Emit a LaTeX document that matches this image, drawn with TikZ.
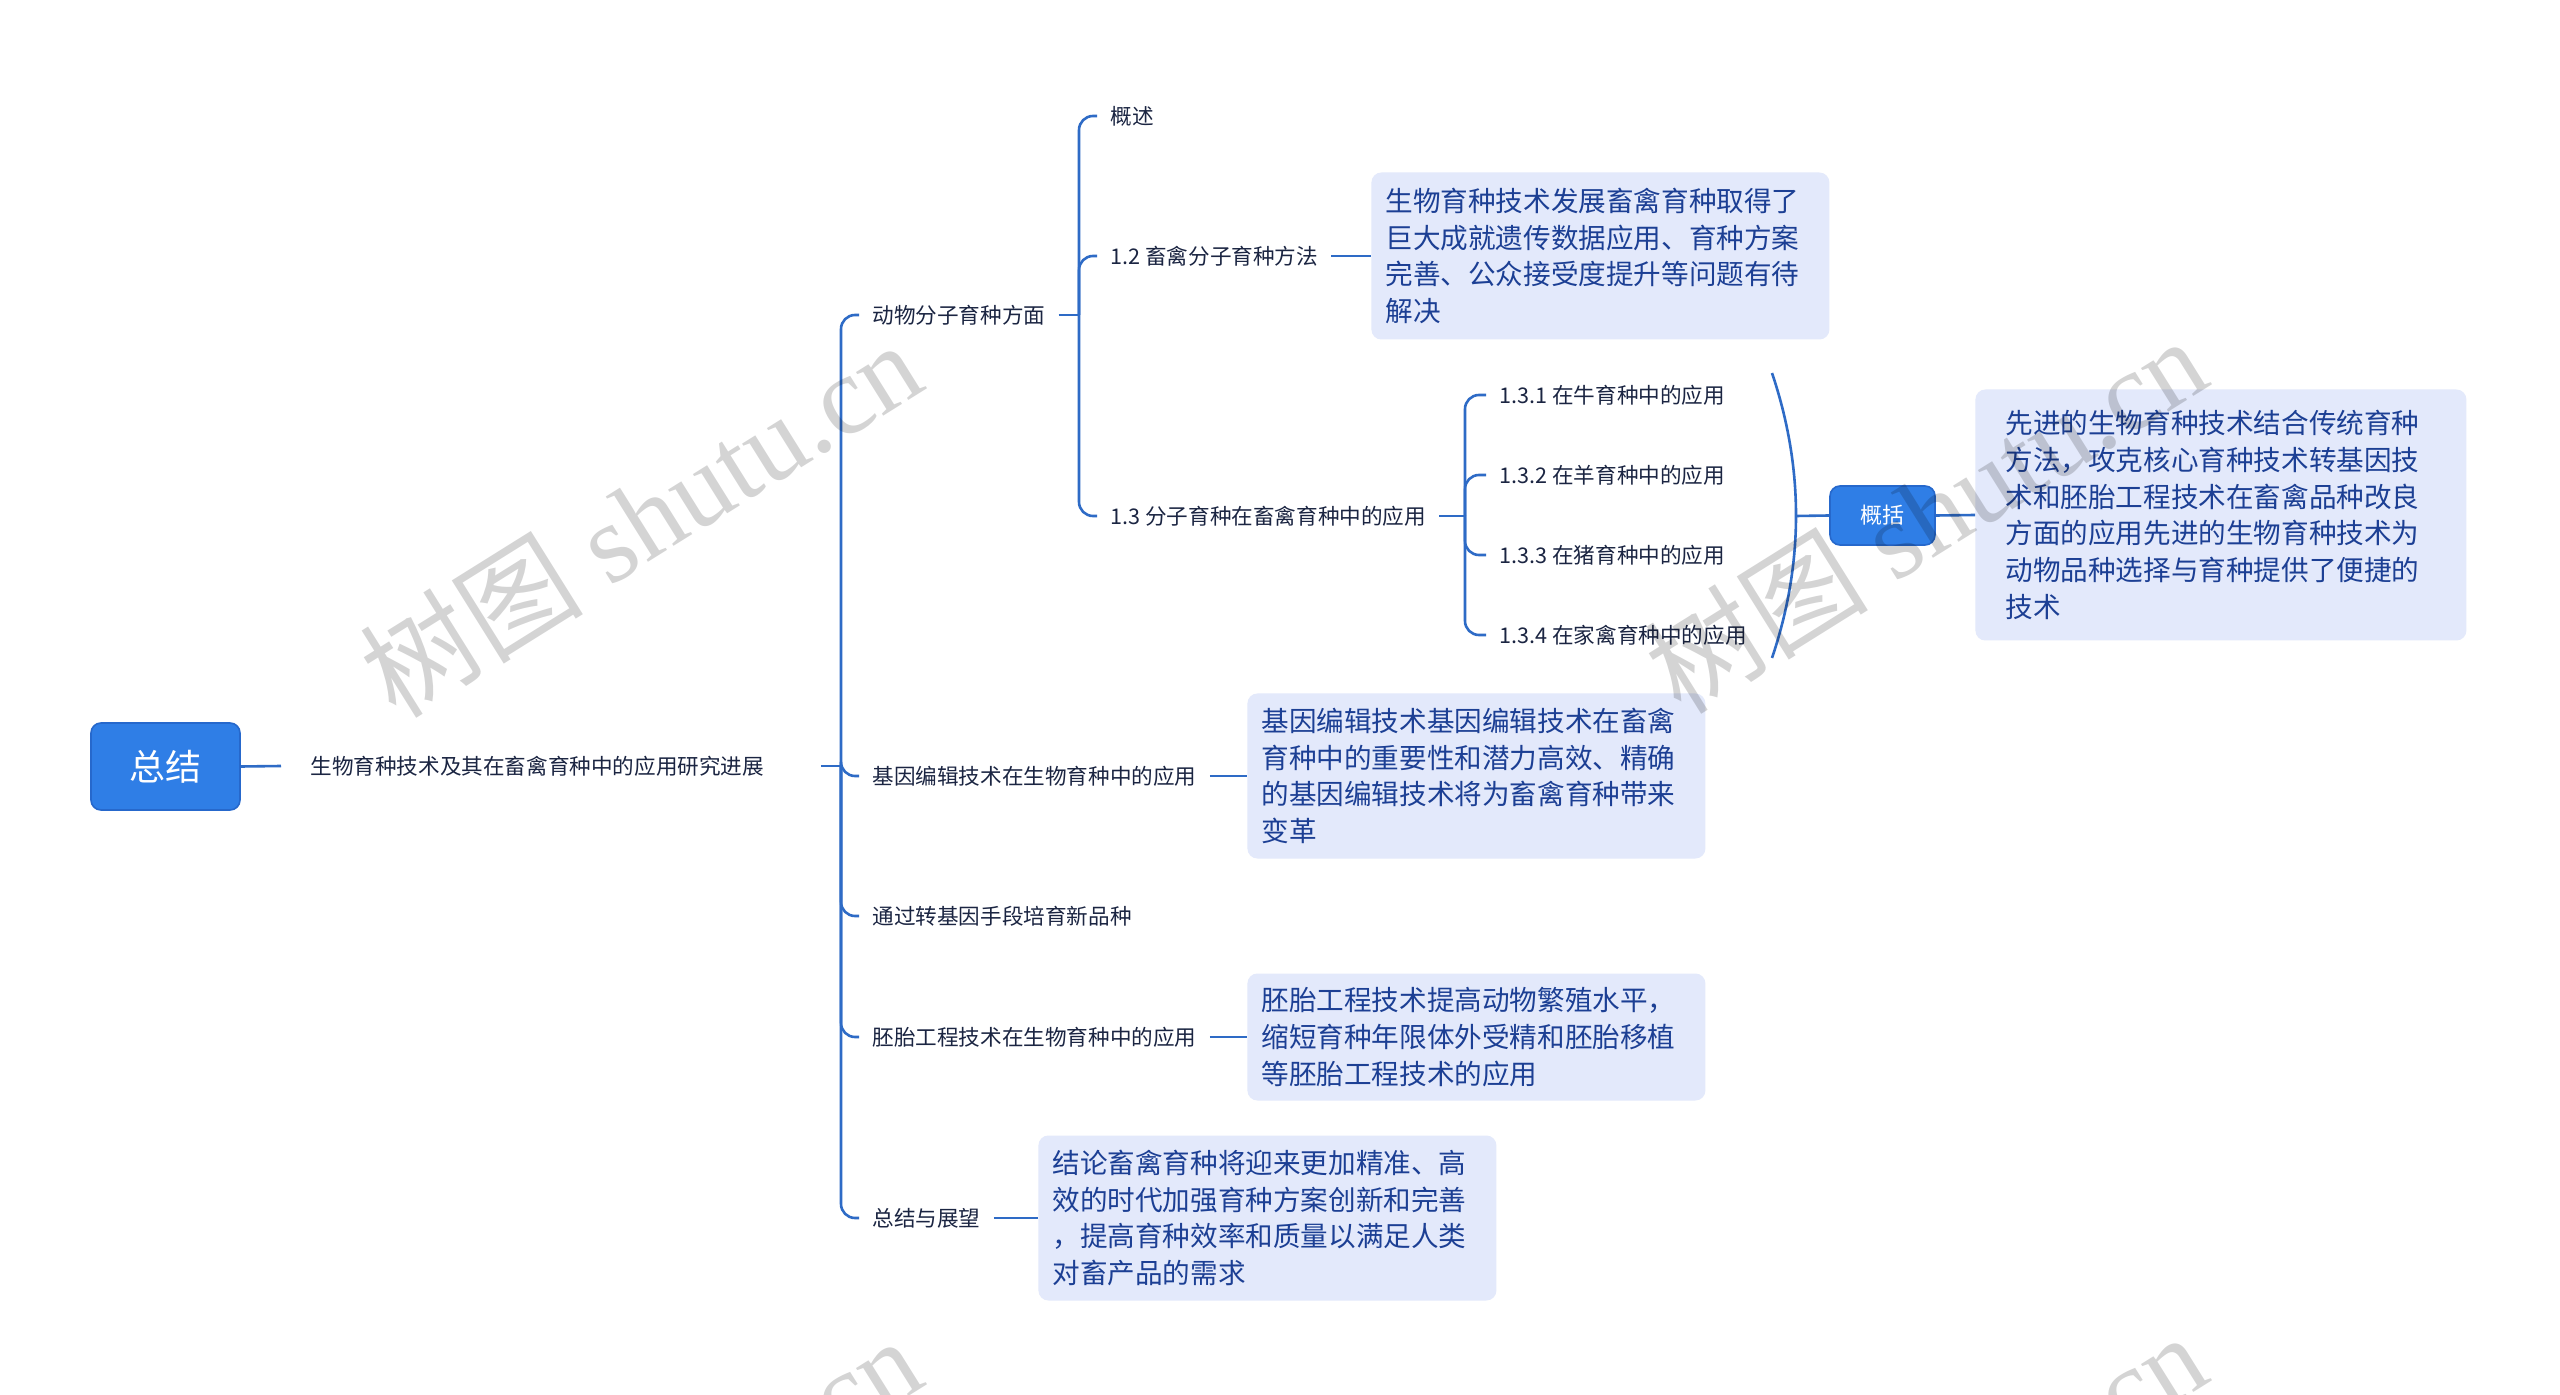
\documentclass[tikz,border=0pt]{standalone}
\usepackage{fontspec}
\setmainfont{Noto Sans CJK SC}
\newfontfamily\wmfont{Liberation Serif}
\newfontfamily\cjk{Noto Sans CJK SC}
\definecolor{lineblue}{HTML}{2E6BC6}
\definecolor{rootfill}{HTML}{2F7EE6}
\definecolor{rootedge}{HTML}{2668CC}
\definecolor{boxfill}{HTML}{E3E9FB}
\definecolor{boxtext}{HTML}{1C3F94}
\definecolor{labtext}{HTML}{1B2542}
\begin{document}
\begin{tikzpicture}[x=0.5pt,y=-0.5pt,
  conn/.style={draw=lineblue, line width=1.3pt, rounded corners=7pt},
  lab/.style={font=\fontsize{10.8pt}{13pt}\selectfont, text=labtext, inner xsep=6.5pt, inner ysep=3pt, anchor=west},
  infobox/.style={fill=boxfill, rounded corners=5pt, text=boxtext, font=\fontsize{13.8pt}{18.35pt}\selectfont, align=left, text width=215pt, inner xsep=7pt, anchor=west},
  bluebox/.style={fill=rootfill, draw=rootedge, line width=0.8pt, rounded corners=5pt, text=white, inner sep=0pt},
  wm/.style={text=black, text opacity=0.17, rotate=32, inner sep=0pt}]
\useasboundingbox (0,0) rectangle (2560,1395);
\fill[white] (0,0) rectangle (2560,1395);

% root
\node[bluebox, minimum width=74.5pt, minimum height=43.5pt, font=\fontsize{18pt}{20pt}\selectfont] (root) at (165.5,766.5) {总结};
\node[lab, inner xsep=14.5pt, text width=240.5pt, align=left] (sub) at (281,766) {生物育种技术及其在畜禽育种中的应用研究进展};
\coordinate (j0) at (841,766);
\draw[conn] (root.east) -- (sub.west);
\draw[conn] (sub.east) -- (j0);

% level 1
\node[lab] (a1) at (859,315) {动物分子育种方面};
\node[lab] (a2) at (859,776) {基因编辑技术在生物育种中的应用};
\node[lab] (a3) at (859,916) {通过转基因手段培育新品种};
\node[lab] (a4) at (859,1037) {胚胎工程技术在生物育种中的应用};
\node[lab] (a5) at (859,1218) {总结与展望};
\foreach \c in {a1,a2,a3,a4,a5} \draw[conn] (j0) |- (\c.west);

% level 2 under a1
\coordinate (j1) at (1079,315);
\draw[conn] (a1.east) -- (j1);
\node[lab] (b1) at (1097,116) {概述};
\node[lab] (b2) at (1097,256) {1.2 畜禽分子育种方法};
\node[lab] (b3) at (1097,516) {1.3 分子育种在畜禽育种中的应用};
\foreach \c in {b1,b2,b3} \draw[conn] (j1) |- (\c.west);

\node[infobox, minimum height=83.5pt] (B12) at (1371,256) {生物育种技术发展畜禽育种取得了\\巨大成就遗传数据应用、育种方案\\完善、公众接受度提升等问题有待\\解决};
\draw[conn] (b2.east) -- (B12.west);

% level 3 under b3
\coordinate (j2) at (1465,516);
\draw[conn] (b3.east) -- (j2);
\node[lab] (c1) at (1486,395) {1.3.1 在牛育种中的应用};
\node[lab] (c2) at (1486,475) {1.3.2 在羊育种中的应用};
\node[lab] (c3) at (1486,555) {1.3.3 在猪育种中的应用};
\node[lab] (c4) at (1486,635) {1.3.4 在家禽育种中的应用};
\foreach \c in {c1,c2,c3,c4} \draw[conn] (j2) |- (\c.west);

% summary brace
\coordinate (bt) at (1772,373);
\coordinate (bb) at (1772,658);
\coordinate (bm) at (1796,516);
\draw[draw=lineblue, line width=1.3pt] (bt) .. controls (1804,468) and (1804,563) .. (bb);
\node[bluebox, minimum width=52.5pt, minimum height=29.5pt, font=\fontsize{11pt}{13pt}\selectfont] (gk) at (1882.5,515.5) {概括};
\draw[conn] (bm) -- (gk.west);
\node[infobox, inner xsep=15pt, text width=215.5pt, minimum height=125.5pt] (BG) at (1975,515) {先进的生物育种技术结合传统育种\\方法，攻克核心育种技术转基因技\\术和胚胎工程技术在畜禽品种改良\\方面的应用先进的生物育种技术为\\动物品种选择与育种提供了便捷的\\技术};
\draw[conn] (gk.east) -- (BG.west);

% boxes of level 1
\node[infobox, minimum height=82.5pt] (BJ) at (1247,776) {基因编辑技术基因编辑技术在畜禽\\育种中的重要性和潜力高效、精确\\的基因编辑技术将为畜禽育种带来\\变革};
\draw[conn] (a2.east) -- (BJ.west);
\node[infobox, minimum height=63.5pt] (BP) at (1247,1037) {胚胎工程技术提高动物繁殖水平，\\缩短育种年限体外受精和胚胎移植\\等胚胎工程技术的应用};
\draw[conn] (a4.east) -- (BP.west);
\node[infobox, minimum height=82.5pt] (BZ) at (1038,1218) {结论畜禽育种将迎来更加精准、高\\效的时代加强育种方案创新和完善\\，提高育种效率和质量以满足人类\\对畜产品的需求};
\draw[conn] (a5.east) -- (BZ.west);

% watermarks
\begin{scope}
\clip (0,0) rectangle (2560,1395);
\node[wm] (w1) at (640,518) {\fontsize{56pt}{60pt}\selectfont\cjk 树图\wmfont\ shutu.cn};
\node[wm] (w2) at (1925,514) {\fontsize{56pt}{60pt}\selectfont\cjk 树图\wmfont\ shutu.cn};
\node[wm] (w3) at (640,1514) {\fontsize{56pt}{60pt}\selectfont\cjk 树图\wmfont\ shutu.cn};
\node[wm] (w4) at (1925,1510) {\fontsize{56pt}{60pt}\selectfont\cjk 树图\wmfont\ shutu.cn};
\end{scope}
\end{tikzpicture}
\end{document}
